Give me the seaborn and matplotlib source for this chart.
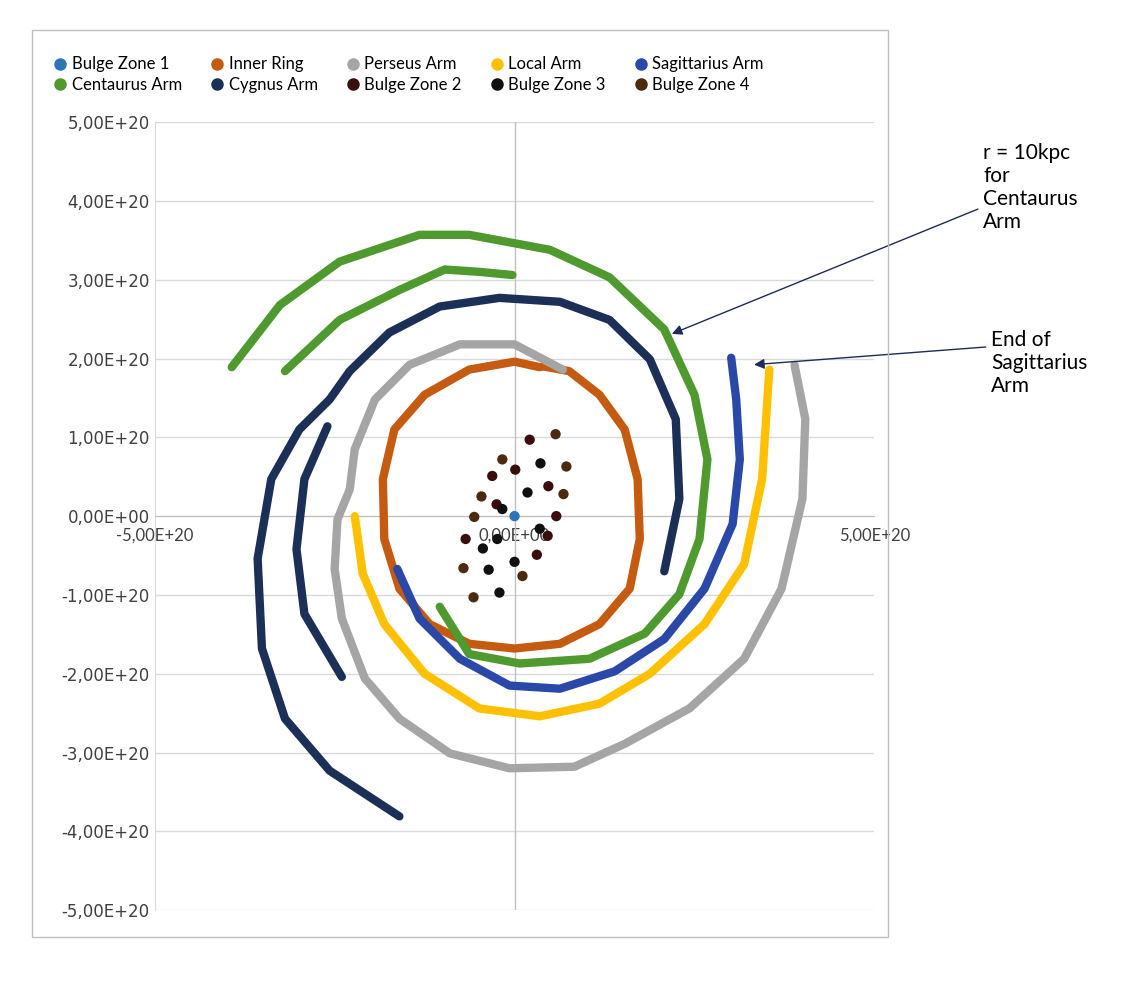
import numpy as np
import matplotlib
matplotlib.use("Agg")
import matplotlib.pyplot as plt
import seaborn as sns
from matplotlib.lines import Line2D
from matplotlib.patches import Rectangle
from matplotlib.ticker import FuncFormatter, MultipleLocator

E = 1e20  # all values below in units of 1e20

inner_x = [0.35, 0, -0.63, -1.25, -1.67, -1.83, -1.81, -1.60, -1.18, -0.63, 0, 0.63, 1.18, 1.60, 1.74, 1.71, 1.53, 1.18, 0.76, 0.40]
inner_y = [1.89, 1.96, 1.86, 1.54, 1.10, 0.47, -0.29, -0.92, -1.37, -1.62, -1.68, -1.62, -1.37, -0.92, -0.29, 0.47, 1.10, 1.54, 1.84, 1.90]

perseus_x = [0.67, 0, -0.76, -1.46, -1.94, -2.22, -2.29, -2.46, -2.50, -2.40, -2.08, -1.60, -0.90, -0.07, 0.83, 1.53, 2.43, 3.19, 3.71, 4.00, 4.04, 3.89]
perseus_y = [1.86, 2.18, 2.18, 1.92, 1.48, 0.85, 0.34, -0.04, -0.67, -1.30, -2.06, -2.57, -3.01, -3.20, -3.18, -2.89, -2.44, -1.81, -0.92, 0.22, 1.23, 1.92]

local_x = [-2.22, -2.11, -1.81, -1.25, -0.49, 0.35, 1.18, 1.88, 2.64, 3.19, 3.44, 3.54]
local_y = [0, -0.73, -1.37, -2.0, -2.44, -2.54, -2.38, -2.0, -1.37, -0.61, 0.47, 1.86]

sagitt_x = [-1.63, -1.32, -0.76, -0.07, 0.63, 1.39, 2.08, 2.64, 3.03, 3.13, 3.08, 3.01]
sagitt_y = [-0.67, -1.30, -1.81, -2.15, -2.19, -1.97, -1.56, -0.92, -0.10, 0.72, 1.48, 2.01]

centaurus_x = [-3.93, -3.26, -2.43, -1.32, -0.63, 0.49, 1.32, 2.08, 2.50, 2.68, 2.57, 2.29, 1.81, 1.04, 0.07, -0.63, -1.04]
centaurus_y = [1.89, 2.68, 3.23, 3.57, 3.57, 3.38, 3.03, 2.37, 1.54, 0.72, -0.29, -0.99, -1.49, -1.81, -1.87, -1.75, -1.15]
centaurus2_x = [-3.19, -2.43, -1.60, -0.97, -0.49, -0.03]
centaurus2_y = [1.84, 2.49, 2.87, 3.13, 3.10, 3.06]

cygnus_x = [2.08, 2.29, 2.24, 1.88, 1.32, 0.63, -0.21, -1.04, -1.74, -2.29, -2.57, -2.99, -3.38, -3.57, -3.51, -3.19, -2.57, -1.60]
cygnus_y = [-0.70, 0.22, 1.23, 1.99, 2.49, 2.72, 2.77, 2.66, 2.33, 1.84, 1.48, 1.10, 0.47, -0.54, -1.68, -2.57, -3.23, -3.81]
cygnus2_x = [-2.60, -2.92, -3.03, -2.92, -2.40]
cygnus2_y = [1.14, 0.47, -0.42, -1.24, -2.04]

bulge1_x = [0]
bulge1_y = [0]
bulge2_x = [0.21, 0.01, -0.31, 0.47, -0.25, 0.58, -0.68, 0.46, 0.31]
bulge2_y = [0.97, 0.59, 0.51, 0.38, 0.15, 0, -0.29, -0.25, -0.49]
bulge3_x = [0.36, 0.18, -0.17, -0.24, 0.35, 0, -0.36, -0.21, -0.44]
bulge3_y = [0.67, 0.30, 0.09, -0.29, -0.16, -0.58, -0.68, -0.97, -0.41]
bulge4_x = [0.57, -0.17, 0.72, -0.46, 0.68, -0.56, -0.71, 0.11, -0.57]
bulge4_y = [1.04, 0.72, 0.63, 0.25, 0.28, -0.01, -0.66, -0.76, -1.03]

colors = {
    "Bulge Zone 1": "#2E75B6", "Inner Ring": "#C55A11", "Perseus Arm": "#A5A5A5",
    "Local Arm": "#FFC000", "Sagittarius Arm": "#2A48A8", "Centaurus Arm": "#4E9A2E",
    "Cygnus Arm": "#1B2F57", "Bulge Zone 2": "#3A0E0E", "Bulge Zone 3": "#101010",
    "Bulge Zone 4": "#4A2A10",
}

fig = plt.figure(figsize=(11.46, 9.85), dpi=100)
fig.patches.append(Rectangle((0.028, 0.0487), 0.747, 0.921, transform=fig.transFigure,
                             fill=False, edgecolor="#BFBFBF", linewidth=1))
ax = fig.add_axes([0.135, 0.076, 0.628, 0.8])
plt.rcParams['font.family'] = ['Lato', 'DejaVu Sans']

lines = [
    (inner_x, inner_y, "Inner Ring"), (perseus_x, perseus_y, "Perseus Arm"),
    (local_x, local_y, "Local Arm"), (sagitt_x, sagitt_y, "Sagittarius Arm"),
    (centaurus_x, centaurus_y, "Centaurus Arm"), (centaurus2_x, centaurus2_y, "Centaurus Arm"),
    (cygnus_x, cygnus_y, "Cygnus Arm"), (cygnus2_x, cygnus2_y, "Cygnus Arm"),
]
for xs, ys, name in lines:
    sns.lineplot(x=np.array(xs) * E, y=np.array(ys) * E, sort=False, estimator=None,
                 color=colors[name], linewidth=6, ax=ax, solid_capstyle="round",
                 solid_joinstyle="round", zorder=3)

for xs, ys, name in [(bulge2_x, bulge2_y, "Bulge Zone 2"), (bulge3_x, bulge3_y, "Bulge Zone 3"),
                     (bulge4_x, bulge4_y, "Bulge Zone 4"), (bulge1_x, bulge1_y, "Bulge Zone 1")]:
    sns.scatterplot(x=np.array(xs) * E, y=np.array(ys) * E, color=colors[name], s=55,
                    edgecolor="none", ax=ax, zorder=4)

ax.set_xlim(-5 * E, 5 * E)
ax.set_ylim(-5 * E, 5 * E)
fmt = FuncFormatter(lambda v, p: f"{v:.2E}".replace(".", ","))
ax.xaxis.set_major_locator(MultipleLocator(5 * E))
ax.yaxis.set_major_locator(MultipleLocator(1 * E))
ax.xaxis.set_major_formatter(fmt)
ax.yaxis.set_major_formatter(fmt)
ax.grid(axis="y", color="#D9D9D9", linewidth=1)
ax.axvline(0, color="#BFBFBF", linewidth=1, zorder=1)
ax.set_axisbelow(True)
ax.spines["bottom"].set_position(("data", 0))
ax.spines["bottom"].set_color("#BFBFBF")
ax.spines["left"].set_color("#D9D9D9")
ax.spines["top"].set_visible(False)
ax.spines["right"].set_visible(False)
ax.tick_params(length=0, labelsize=12, colors="#404040")
ax.tick_params(axis="x", pad=8)
ax.set_xlabel("")
ax.set_ylabel("")

order = ["Bulge Zone 1", "Inner Ring", "Perseus Arm", "Local Arm", "Sagittarius Arm",
         "Centaurus Arm", "Cygnus Arm", "Bulge Zone 2", "Bulge Zone 3", "Bulge Zone 4"]
# legend fills column by column, so interleave the two rows
col_order = [order[i + 5 * r] for i in range(5) for r in range(2)]
handles = [Line2D([], [], marker="o", linestyle="none", color=colors[n], markersize=8) for n in col_order]
fig.legend(handles, col_order, ncol=5, loc="upper left", bbox_to_anchor=(0.032, 0.958),
           frameon=False, fontsize=12, handletextpad=0.2, columnspacing=1.6,
           labelspacing=0.25, handlelength=1)

ax.annotate("r = 10kpc\nfor\nCentaurus\nArm", xy=(2.15 * E, 2.30 * E), xycoords="data",
            xytext=(0.858, 0.855), textcoords="figure fraction", fontsize=15, va="top",
            ha="left", arrowprops=dict(arrowstyle="-|>", color="#1F2A5A", lw=1),
            annotation_clip=False)
ax.annotate("End of\nSagittarius\nArm", xy=(3.29 * E, 1.92 * E), xycoords="data",
            xytext=(0.865, 0.665), textcoords="figure fraction", fontsize=15, va="top",
            ha="left", arrowprops=dict(arrowstyle="-|>", color="#1F2A5A", lw=1,
                                       relpos=(0, 0.75)),
            annotation_clip=False)

fig.savefig("out.png", dpi=100)
